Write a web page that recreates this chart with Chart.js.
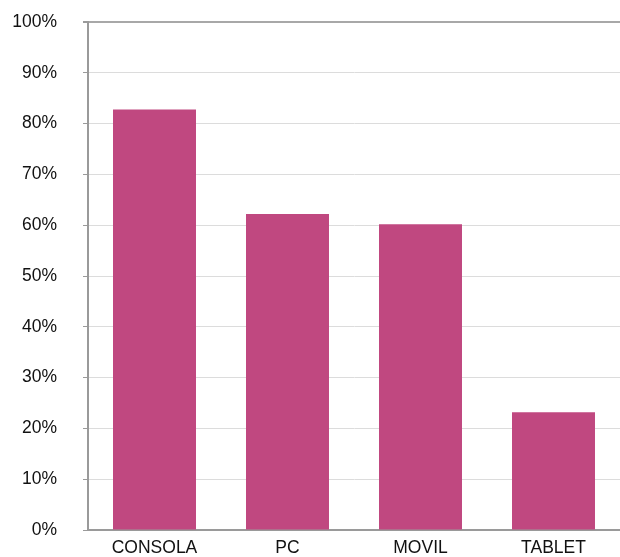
<!DOCTYPE html>
<html>
<head>
<meta charset="utf-8">
<script src="https://cdn.jsdelivr.net/npm/chart.js@4"></script>
<style>
    body { margin: 0; background: #fff; overflow: hidden; }
    #wrap { position: relative; width: 620px; height: 557px; }
</style>
</head>
<body>
<div id="wrap"><canvas id="bar-canvas"></canvas></div>
<script>
const categories = ['CONSOLA', 'PC', 'MOVIL', 'TABLET'];
const usage = [82.8, 62.2, 60.2, 23.2];
const yTicks = [0, 10, 20, 30, 40, 50, 60, 70, 80, 90, 100];

const font = { family: '"Helvetica Neue", Helvetica, Arial, "Liberation Sans", sans-serif', size: 17.5 };

const ctx = document.getElementById('bar-canvas').getContext('2d');
const barChart = new Chart(ctx, {
    type: 'bar',
    data: {
        labels: categories,
        datasets: [{
            data: usage,
            backgroundColor: '#c04880',
            borderWidth: 0,
            categoryPercentage: 1,
            barPercentage: 0.624
        }]
    },
    options: {
        responsive: true,
        maintainAspectRatio: false,
        animation: false,
        layout: { padding: 0 },
        plugins: {
            legend: { display: false },
            tooltip: { enabled: false }
        },
        scales: {
            x: {
                grid: { display: false, drawTicks: false, tickLength: 0 },
                border: { display: true, color: '#9a9a9a', width: 2 },
                ticks: { color: '#111', font: font, padding: 8, maxRotation: 0 },
                afterFit: (axis) => {
                    axis.height = 27;
                    axis.paddingLeft = 0;
                    axis.paddingRight = 0;
                }
            },
            y: {
                min: 0,
                max: 100,
                afterBuildTicks: (axis) => {
                    axis.ticks = yTicks.map(v => ({ value: v }));
                },
                afterFit: (axis) => {
                    axis.width = 88;
                    axis.paddingTop = 22;
                    axis.paddingBottom = 0;
                },
                border: { display: true, color: '#9a9a9a', width: 2 },
                grid: {
                    color: (c) => c.tick && c.tick.value === 100 ? '#a8a8a8' : '#dcdcdc',
                    lineWidth: (c) => c.tick && c.tick.value === 100 ? 2 : 1,
                    tickColor: '#9a9a9a',
                    tickLength: 5
                },
                ticks: {
                    color: '#111',
                    font: font,
                    padding: 26,
                    callback: (value) => value + '%'
                }
            }
        }
    }
});
</script>
</body>
</html>
